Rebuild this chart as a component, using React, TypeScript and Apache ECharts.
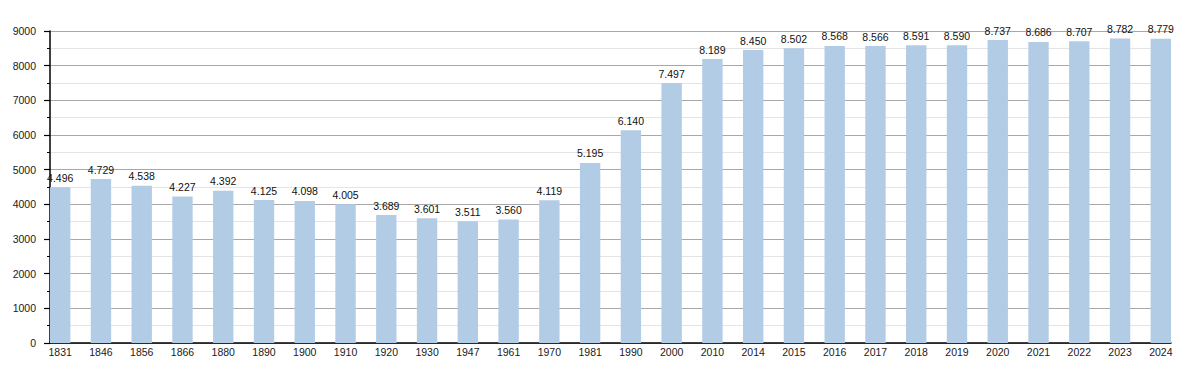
import React, { useEffect, useRef } from "react";
import * as echarts from "echarts";

const years = ["1831","1846","1856","1866","1880","1890","1900","1910","1920","1930","1947","1961","1970","1981","1990","2000","2010","2014","2015","2016","2017","2018","2019","2020","2021","2022","2023","2024"];
const population = [4496,4729,4538,4227,4392,4125,4098,4005,3689,3601,3511,3560,4119,5195,6140,7497,8189,8450,8502,8568,8566,8591,8590,8737,8686,8707,8782,8779];
const yMin = 0;
const yMax = 9000;
const yStep = 1000;

const FONT = "Liberation Sans, Arial, sans-serif";

function fmt(v: number): string {
  return String(v).replace(/\B(?=(\d{3})+(?!\d))/g, ".");
}

export default function App() {
  const ref = useRef<HTMLDivElement>(null);
  useEffect(() => {
    if (!ref.current) return;
    const chart = echarts.init(ref.current, null, { renderer: "svg" });
    const axisLeft = 50;
    const axisRight = 1171;
    const band = (axisRight - axisLeft) / (years.length - 0.5);
    const top = 31;
    const height = 312;
    chart.setOption({
      animation: false,
      backgroundColor: "#ffffff",
      grid: [
        { left: axisLeft, width: axisRight - axisLeft, top, height, containLabel: false },
        { left: axisLeft - band / 4, width: band * years.length, top, height, containLabel: false },
      ],
      xAxis: [
        {
          type: "value",
          gridIndex: 0,
          min: 0,
          max: 1,
          axisLine: { show: true, onZero: false, lineStyle: { color: "#000", width: 1.5 } },
          axisTick: { show: false },
          axisLabel: { show: false },
          splitLine: { show: false },
        },
        {
          type: "category",
          gridIndex: 1,
          data: years,
          boundaryGap: true,
          axisLine: { show: false },
          axisTick: { show: false },
          axisLabel: { color: "#1a1a1a", fontFamily: FONT, fontSize: 10.5, margin: 3, interval: 0 },
          splitLine: { show: false },
        },
      ],
      yAxis: [
        {
          type: "value",
          gridIndex: 0,
          min: yMin,
          max: yMax,
          interval: yStep,
          axisLine: { show: true, lineStyle: { color: "#000", width: 1.5 } },
          axisTick: { show: true, length: 6, lineStyle: { color: "#000", width: 1.2 } },
          minorTick: { show: true, splitNumber: 2, length: 3, lineStyle: { color: "#000", width: 1 } },
          axisLabel: { color: "#1a1a1a", fontFamily: FONT, fontSize: 10.5, margin: 14, formatter: (v: number) => String(v) },
          splitLine: { show: true, lineStyle: { color: "#a8a8a8", width: 1 } },
          minorSplitLine: { show: true, lineStyle: { color: "#e4e4e4", width: 1 } },
        },
        {
          type: "value",
          gridIndex: 1,
          min: yMin,
          max: yMax,
          interval: yStep,
          show: false,
          splitLine: { show: false },
        },
      ],
      series: [
        {
          type: "bar",
          xAxisIndex: 1,
          yAxisIndex: 1,
          data: population,
          barWidth: "50%",
          itemStyle: { color: "#b3cce6" },
          label: {
            show: true,
            position: "top",
            distance: 4,
            color: "#111",
            fontFamily: FONT,
            fontSize: 10.5,
            formatter: (p: any) => fmt(p.value),
          },
        },
      ],
    });
    return () => chart.dispose();
  }, []);
  return (
    <div
      ref={ref}
      style={{ position: "fixed", left: 0, top: 0, width: 1200, height: 373, background: "#fff" }}
    />
  );
}
